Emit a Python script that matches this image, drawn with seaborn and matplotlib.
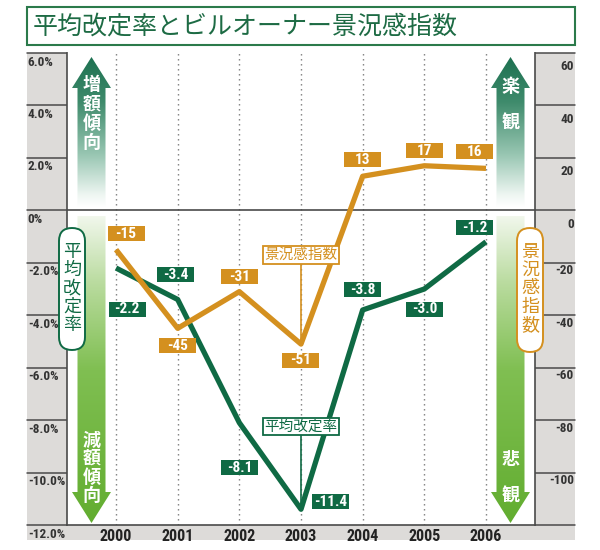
import numpy as np
import pandas as pd
import matplotlib
matplotlib.use("Agg")
import matplotlib.pyplot as plt
import seaborn as sns
from matplotlib import font_manager as fm
from matplotlib.patches import Rectangle, Polygon, FancyBboxPatch
from matplotlib.colors import LinearSegmentedColormap
from matplotlib.offsetbox import DrawingArea, AnnotationBbox
from matplotlib.text import Text

# ---- data ----
years = [2000, 2001, 2002, 2003, 2004, 2005, 2006]
rate = [-2.2, -3.4, -8.1, -11.4, -3.8, -3.0, -1.2]        # 平均改定率 (%)
index = [-15, -45, -31, -51, 13, 17, 16]                   # 景況感指数
rate_ticks = [6, 4, 2, 0, -2, -4, -6, -8, -10, -12]
rate_labels = ["6.0%", "4.0%", "2.0%", "0%", "-2.0%", "-4.0%", "-6.0%", "-8.0%", "-10.0%", "-12.0%"]
index_ticks = [60, 40, 20, 0, -20, -40, -60, -80, -100, -120]
index_labels = ["60", "40", "20", "0", "-20", "-40", "-60", "-80", "-100", ""]
title = "平均改定率とビルオーナー景況感指数"

# label box offsets from each point, in pixels (dx, dy downwards)
rate_tag_off = [(11, 41), (-2, -25), (0, 45), (30, -8), (0, -20), (0, 20), (-11, -14)]
index_tag_off = [(10, -16), (0, 17), (0, -15), (0, 16), (0, -17), (0, -15), (-11, -17)]

GREEN = "#0f6a44"
ORANGE = "#d4901f"
GRAY = "#dddbd9"
DARK = "#4a4a4a"

sns.set_style("white")
plt.rcParams["font.family"] = ["Noto Sans CJK JP", "DejaVu Sans"]
avail = {f.name for f in fm.fontManager.ttflist}
NARROW = next((f for f in ["Liberation Sans Narrow", "Roboto Condensed", "Liberation Sans"] if f in avail), "DejaVu Sans")

W, H = 600, 550
fig = plt.figure(figsize=(6, 5.5), dpi=100)


def box(x0, y0, x1, y1):
    return [x0 / W, 1 - y1 / H, (x1 - x0) / W, (y1 - y0) / H]


# bottom gray strip
strip = fig.add_axes(box(27, 525, 575, 540))
strip.set_facecolor(GRAY)
strip.set_xticks([]); strip.set_yticks([])
for s in strip.spines.values():
    s.set_visible(False)

# side panels with tick labels
axL = fig.add_axes(box(27, 53, 67, 525))
axR = fig.add_axes(box(535, 53, 575, 525))
for pan, ticks, labels, ylim, side in [(axL, rate_ticks, rate_labels, (-12, 6), "L"),
                                       (axR, index_ticks, index_labels, (-120, 60), "R")]:
    pan.set_facecolor(GRAY)
    pan.set_ylim(*ylim)
    pan.set_xticks([]); pan.set_yticks([])
    for s in pan.spines.values():
        s.set_visible(False)
    for t, lab in zip(ticks, labels):
        pan.axhline(t, color=DARK, lw=1.1, clip_on=False)
        if side == "L":
            pan.annotate(lab, xy=(0.02, t), xycoords=pan.get_yaxis_transform(),
                         xytext=(0, -9), textcoords="offset pixels", ha="left", va="center",
                         fontsize=9.5, fontweight="bold", family=NARROW, color="#333")
        else:
            off = -14 if t >= 0 else -8
            pan.annotate(lab, xy=(0.97, t), xycoords=pan.get_yaxis_transform(),
                         xytext=(0, off), textcoords="offset pixels", ha="right", va="center",
                         fontsize=9.5, fontweight="bold", family=NARROW, color="#333")

# main plot
df = pd.DataFrame({"year": years, "rate": rate, "index": index})
ax = fig.add_axes(box(67, 53, 535, 525))
ax.set_facecolor("white")
ax.set_xlim(1999.205, 2006.795)
ax.set_ylim(-12, 6)
ax.vlines(years, -12, 6, colors="#7a7a7a", linestyles=(0, (1, 2.6)), lw=1)
ax.axhline(0, color=DARK, lw=1.2)
sns.lineplot(data=df, x="year", y="rate", ax=ax, color=GREEN, lw=3.8, solid_capstyle="butt")
ax.set_xticks(years)
ax.set_xticklabels([str(y) for y in years], fontsize=11.5, fontweight="bold", family=NARROW, color="#222")
ax.tick_params(axis="x", length=0, pad=3)
ax.set_yticks([])
ax.set_xlabel(""); ax.set_ylabel("")
ax.spines["top"].set_visible(False)
for k in ["left", "right", "bottom"]:
    ax.spines[k].set_color(DARK)
    ax.spines[k].set_linewidth(1.2)

ax2 = ax.twinx()
ax2.set_ylim(-120, 60)
sns.lineplot(data=df, x="year", y="index", ax=ax2, color=ORANGE, lw=3.8, solid_capstyle="butt")
ax2.set_yticks([]); ax2.set_ylabel("")
for s in ax2.spines.values():
    s.set_visible(False)
ax.set_zorder(1)
ax2.set_zorder(2)

BW, BH = 37 * 0.72, 15 * 0.72


def tag(x, y, s, color, off, xycoords):
    da = DrawingArea(BW, BH, 0, 0)
    da.add_artist(Rectangle((0, 0), BW, BH, fc=color, ec="none"))
    da.add_artist(Text(BW / 2, BH / 2 - 0.3, s, ha="center", va="center", color="white",
                       fontsize=11, fontweight="bold", family=NARROW))
    ab = AnnotationBbox(da, (x, y), xycoords=xycoords, xybox=(off[0], -off[1]),
                        boxcoords="offset pixels", frameon=False, pad=0, box_alignment=(0.5, 0.5))
    ax2.add_artist(ab)


for x, v, o in zip(years, rate, rate_tag_off):
    tag(x, v, f"{v:.1f}", GREEN, o, ax.transData)
for x, v, o in zip(years, index, index_tag_off):
    tag(x, v, f"{v}", ORANGE, o, ax2.transData)

# callouts for the two series at 2003
ax2.annotate("景況感指数", xy=(years[3], index[3]), xytext=(0, 89), textcoords="offset pixels",
             ha="center", va="center", fontsize=10.5, color=ORANGE,
             bbox=dict(boxstyle="square,pad=0.12", fc="white", ec=ORANGE, lw=1.3),
             arrowprops=dict(arrowstyle="-", color=ORANGE, lw=1.2, shrinkA=0, shrinkB=0))
ax2.annotate("平均改定率", xy=(years[3], rate[3]), xycoords=ax.transData, xytext=(0, 83),
             textcoords="offset pixels", ha="center", va="center", fontsize=10.5, color=GREEN,
             bbox=dict(boxstyle="square,pad=0.12", fc="white", ec=GREEN, lw=1.3),
             arrowprops=dict(arrowstyle="-", color=GREEN, lw=1.2, shrinkA=0, shrinkB=0))

# overlay in pixel units: title, gradient arrows, pills
ov = fig.add_axes([0, 0, 1, 1])
ov.set_zorder(3)
ov.axis("off")

up_cmap = LinearSegmentedColormap.from_list(
    "up", [(0, "#1d7151"), (0.3, "#3f8b6c"), (0.65, "#98c6b2"), (0.92, "#eef6f2"), (1, "#ffffff")])
down_cmap = LinearSegmentedColormap.from_list(
    "down", [(0, "#f1f7ec"), (0.22, "#b9db9e"), (0.5, "#80bf52"), (1, "#62ad30")])
ramp = np.linspace(0, 1, 256).reshape(-1, 1)


def grad_arrow(cx, y_top, y_bot, up, cmap):
    sw, hw, hh = 14, 19.5, 31
    if up:
        pts = [(cx, y_top), (cx + hw, y_top + hh), (cx + sw, y_top + hh), (cx + sw, y_bot),
               (cx - sw, y_bot), (cx - sw, y_top + hh), (cx - hw, y_top + hh)]
    else:
        pts = [(cx - sw, y_top), (cx + sw, y_top), (cx + sw, y_bot - hh), (cx + hw, y_bot - hh),
               (cx, y_bot), (cx - hw, y_bot - hh), (cx - sw, y_bot - hh)]
    poly = Polygon(pts, closed=True, transform=ov.transData, fc="none", ec="none")
    im = ov.imshow(ramp, cmap=cmap, extent=(cx - hw, cx + hw, y_bot, y_top),
                   aspect="auto", interpolation="bilinear")
    im.set_clip_path(poly)


def vtext(cx, ys, chars, color, size, weight):
    for y, c in zip(ys, chars):
        ov.text(cx, y, c, ha="center", va="center", color=color, fontsize=size, fontweight=weight)


grad_arrow(91.5, 57, 207, True, up_cmap)
grad_arrow(91.5, 216, 523, False, down_cmap)
grad_arrow(510.5, 57, 207, True, up_cmap)
grad_arrow(510.5, 216, 523, False, down_cmap)

vtext(91.5, [85, 104, 123, 142], "増額傾向", "white", 13, "bold")
vtext(91.5, [440, 458, 477, 495], "減額傾向", "white", 13, "bold")
vtext(510.5, [86, 123], "楽観", "white", 13, "bold")
vtext(510.5, [459, 496], "悲観", "white", 13, "bold")

ov.add_patch(FancyBboxPatch((59, 228), 26, 122, boxstyle="round,pad=0,rounding_size=13",
                            fc="white", ec=GREEN, lw=1.4))
vtext(72, [252, 270, 288, 307, 325], "平均改定率", GREEN, 13, "normal")
ov.add_patch(FancyBboxPatch((517, 228), 26, 124, boxstyle="round,pad=0,rounding_size=13",
                            fc="white", ec=ORANGE, lw=1.4))
vtext(530, [252, 270, 288, 307, 325], "景況感指数", ORANGE, 13, "normal")

ov.add_patch(Rectangle((27, 7), 548, 38, fc="white", ec="#2b7a4b", lw=1.5))
ov.text(33, 26.5, title, ha="left", va="center", fontsize=18, color="#1d6b44")

ov.set_xlim(0, W)
ov.set_ylim(H, 0)

fig.savefig("out.png", dpi=100)
